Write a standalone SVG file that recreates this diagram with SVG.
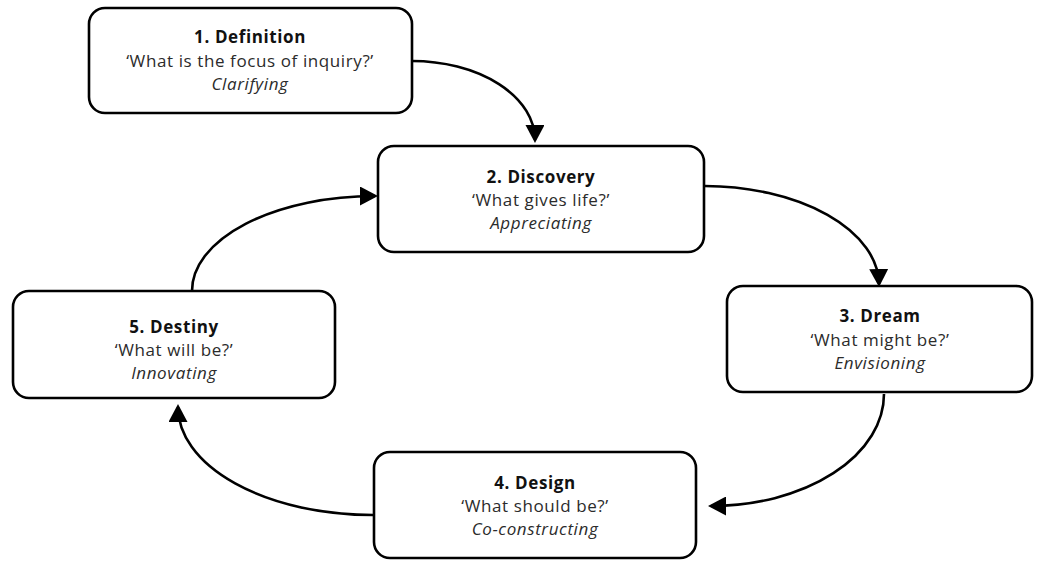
<svg xmlns="http://www.w3.org/2000/svg" width="1040" height="561" viewBox="0 0 1040 561">
  <style>
    .box { fill: #ffffff; stroke: #000000; stroke-width: 2.6; }
    .t { font-family: "Open Sans", Lato, "Liberation Sans", sans-serif; font-size: 17px; letter-spacing: 0.6px; fill: #2b2b2b; text-anchor: middle; }
    .b { font-weight: bold; fill: #111111; }
    .i { font-style: italic; }
    .link { fill: none; stroke: #000000; stroke-width: 2.6; }
  </style>
  <defs>
    <marker id="arrow" markerUnits="userSpaceOnUse" viewBox="0 0 18 19" markerWidth="18" markerHeight="19" refX="15" refY="9.5" orient="auto">
      <path d="M0,0 L18,9.5 L0,19 Z" fill="#000000"/>
    </marker>
  </defs>

  <g id="connectors">
    <path class="link" d="M412,61 A123,79 0 0 1 535,140" marker-end="url(#arrow)"/>
    <path class="link" d="M705,186 A175,99 0 0 1 879,284" marker-end="url(#arrow)"/>
    <path class="link" d="M884,394 A173,112 0 0 1 711,506" marker-end="url(#arrow)"/>
    <path class="link" d="M373,515 A195,108 0 0 1 178,407" marker-end="url(#arrow)"/>
    <path class="link" d="M192,291 A183,95 0 0 1 375,196" marker-end="url(#arrow)"/>
  </g>

  <g id="node-definition">
    <rect class="box" x="89" y="8" width="323" height="105" rx="16"/>
    <text class="t b" x="250" y="43">1. Definition</text>
    <text class="t" x="250" y="67">‘What is the focus of inquiry?’</text>
    <text class="t i" x="250" y="90">Clarifying</text>
  </g>

  <g id="node-discovery">
    <rect class="box" x="378" y="146" width="326" height="106" rx="16"/>
    <text class="t b" x="541" y="183">2. Discovery</text>
    <text class="t" x="541" y="206">‘What gives life?’</text>
    <text class="t i" x="541" y="229">Appreciating</text>
  </g>

  <g id="node-dream">
    <rect class="box" x="727" y="286" width="305" height="106" rx="16"/>
    <text class="t b" x="880" y="322">3. Dream</text>
    <text class="t" x="880" y="346">‘What might be?’</text>
    <text class="t i" x="880" y="369">Envisioning</text>
  </g>

  <g id="node-design">
    <rect class="box" x="374" y="452" width="322" height="106" rx="16"/>
    <text class="t b" x="535" y="489">4. Design</text>
    <text class="t" x="535" y="512">‘What should be?’</text>
    <text class="t i" x="535" y="535">Co-constructing</text>
  </g>

  <g id="node-destiny">
    <rect class="box" x="13" y="291" width="322" height="107" rx="16"/>
    <text class="t b" x="174" y="333">5. Destiny</text>
    <text class="t" x="174" y="356">‘What will be?’</text>
    <text class="t i" x="174" y="379">Innovating</text>
  </g>
</svg>
